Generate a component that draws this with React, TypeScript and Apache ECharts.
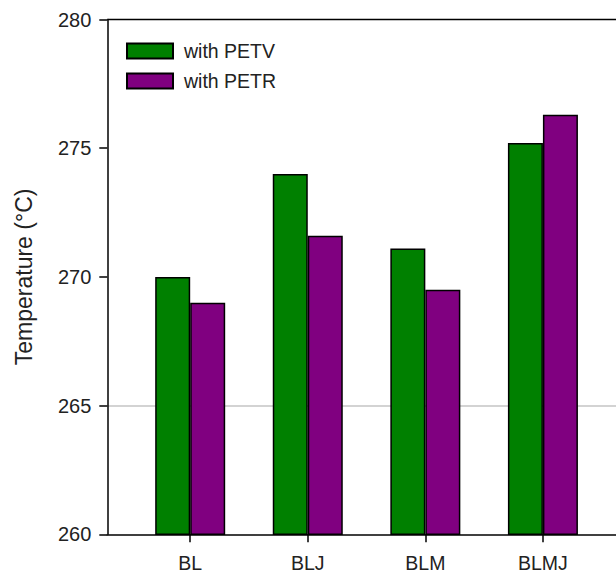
import React, { useEffect, useRef } from "react";
import * as echarts from "echarts";

const categories = ["BL", "BLJ", "BLM", "BLMJ"];
const petv = [270.0, 274.0, 271.1, 275.2];
const petr = [269.0, 271.6, 269.5, 276.3];
const seriesNames = ["with PETV", "with PETR"];
const yMin = 260;
const yMax = 280;
const yStep = 5;
const yTicks = [260, 265, 270, 275, 280];
const refLine = 265;

const FONT = "'Liberation Sans', Arial, sans-serif";

export default function App() {
  const ref = useRef<HTMLDivElement>(null);
  useEffect(() => {
    document.body.style.margin = "0";
    document.body.style.overflow = "hidden";
    document.documentElement.style.overflow = "hidden";
    if (!ref.current) return;
    const chart = echarts.init(ref.current, undefined, { renderer: "svg" });
    const idx = categories.map((_, i) => i);
    const xMin = -0.705;
    const xMax = 4.336;
    const gridTop = 19.5;
    const gridLeft = 107.3;
    chart.setOption({
      animation: false,
      backgroundColor: "#ffffff",
      textStyle: { fontFamily: FONT },
      grid: {
        left: gridLeft,
        top: gridTop,
        bottom: 41.7,
        right: 0,
        show: false,
      },
      graphic: [
        {
          type: "line",
          shape: { x1: gridLeft, y1: gridTop, x2: 700, y2: gridTop },
          style: { stroke: "#000", lineWidth: 1.5 },
          z: 10,
          silent: true,
        },
      ],
      legend: {
        orient: "vertical",
        left: 126,
        top: 41,
        padding: 0,
        itemWidth: 46,
        itemHeight: 15,
        itemGap: 10,
        icon: "rect",
        data: seriesNames,
        textStyle: { fontSize: 19.5, color: "#222", fontFamily: FONT, padding: [0, 0, 0, 6] },
      },
      xAxis: {
        type: "value",
        min: xMin,
        max: xMax,
        splitLine: { show: false },
        axisLine: { show: true, onZero: false, lineStyle: { color: "#000", width: 1.5 } },
        axisTick: {
          show: true,
          inside: false,
          length: 8,
          customValues: idx,
          lineStyle: { color: "#000", width: 1.5 },
        },
        axisLabel: {
          customValues: idx,
          formatter: (v: number) => categories[Math.round(v)] ?? "",
          fontSize: 19.5,
          color: "#222",
          margin: 19,
          fontFamily: FONT,
        },
      },
      yAxis: {
        type: "value",
        min: yMin,
        max: yMax,
        interval: yStep,
        name: "Temperature (°C)",
        nameLocation: "middle",
        nameGap: 72,
        nameTextStyle: { fontSize: 23, color: "#222", fontFamily: FONT },
        splitLine: {
          show: true,
          lineStyle: {
            width: 1.5,
            color: yTicks.map((t) => (t === refLine ? "#c4c4c4" : "rgba(0,0,0,0)")),
          },
        },
        axisLine: { show: true, onZero: false, lineStyle: { color: "#000", width: 1.5 } },
        axisTick: { show: true, inside: false, length: 8, lineStyle: { color: "#000", width: 1.5 } },
        axisLabel: { fontSize: 20, color: "#222", margin: 16, fontFamily: FONT },
      },
      series: [
        {
          name: seriesNames[0],
          type: "bar",
          barWidth: 35,
          barGap: "0%",
          z: 3,
          itemStyle: { color: "#008000", borderColor: "#000", borderWidth: 1.5 },
          data: petv.map((v, i) => [i, v]),
        },
        {
          name: seriesNames[1],
          type: "bar",
          barWidth: 35,
          barGap: "0%",
          z: 3,
          itemStyle: { color: "#800080", borderColor: "#000", borderWidth: 1.5 },
          data: petr.map((v, i) => [i, v]),
        },
      ],
    });
    return () => chart.dispose();
  }, []);
  return <div ref={ref} style={{ width: 700, height: 576 }} />;
}
